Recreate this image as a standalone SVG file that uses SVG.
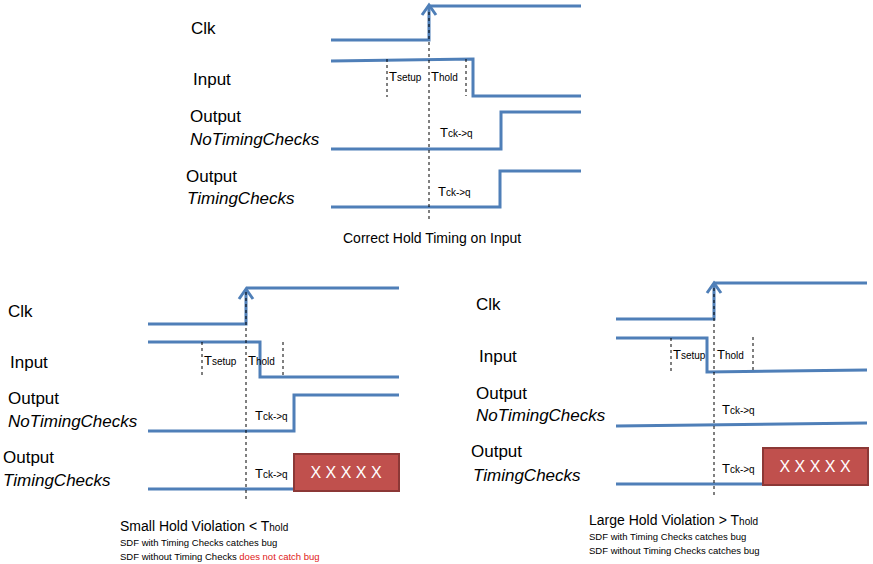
<svg xmlns="http://www.w3.org/2000/svg" width="873" height="564" viewBox="0 0 873 564">
<style>
text{font-family:"Liberation Sans","Noto Sans",sans-serif;fill:#000}
.lbl{font-size:17px}
.it{font-style:italic}
.w{fill:none;stroke:#4f7fb8;stroke-width:3;stroke-linejoin:miter}
.d{fill:none;stroke:#000;stroke-width:1;stroke-dasharray:3,3}
.t{font-size:13px}
.s{font-size:10px}
.cap{font-size:14px}
.sm{font-size:9.5px}
.box{fill:#c0504d;stroke:#8c3836;stroke-width:2}
.xx{fill:#fff;font-size:16px}
</style>
<defs>
<marker id="ar" markerWidth="6" markerHeight="6" refX="3" refY="1" orient="auto" markerUnits="userSpaceOnUse" viewBox="0 0 6 6"><path d="M0,5 L3,0 L6,5" fill="none" stroke="#4f7fb8" stroke-width="1.5"/></marker>
</defs>
<g id="connectors">
<!-- top -->
<path class="w" d="M331,40 H429 V6"/>
<path d="M422,15 L429,5 L436,15" fill="none" stroke="#4f7fb8" stroke-width="3"/>
<path class="w" d="M429,6 H581"/>
<path class="w" d="M331,61 L473,59 V96 H581"/>
<path class="w" d="M331,149 H501 V112 H581"/>
<path class="w" d="M331,207 H500 V171 H581"/>
<path class="d" d="M429,12 V220 M387,59 V97 M466,59 V96"/>
<!-- bottom left -->
<path class="w" d="M148,324 H246 V290"/>
<path d="M239,299 L246,289 L253,299" fill="none" stroke="#4f7fb8" stroke-width="3"/>
<path class="w" d="M246,288 H399"/>
<path class="w" d="M148,342 L260,342 V377 H399"/>
<path class="w" d="M148,431 H294 V395 H399"/>
<path class="w" d="M148,489 H294"/>
<path class="d" d="M246,292 V502 M202,342 V378 M283,342 V377"/>
<!-- bottom right -->
<path class="w" d="M616,319 H714 V284"/>
<path d="M707,293 L714,283 L721,293" fill="none" stroke="#4f7fb8" stroke-width="3"/>
<path class="w" d="M714,283 H867"/>
<path class="w" d="M616,338 H707 V372 L867,370"/>
<path class="w" d="M616,426 L867,423"/>
<path class="w" d="M616,484 H763"/>
<path class="d" d="M714,288 V495 M671,338 V373 M753,337 V372"/>
</g>
<g id="top">
<text class="lbl" x="191" y="34">Clk</text>
<text class="lbl" x="193" y="85">Input</text>
<text class="lbl" x="190" y="122">Output</text>
<text class="lbl it" x="190" y="145">NoTimingChecks</text>
<text class="lbl" x="186" y="182">Output</text>
<text class="lbl it" x="187" y="204">TimingChecks</text>
<text class="t" x="389" y="81">T<tspan class="s">setup</tspan></text>
<text class="t" x="431" y="81">T<tspan class="s">hold</tspan></text>
<text class="t" x="440" y="137">T<tspan class="s">ck-&gt;q</tspan></text>
<text class="t" x="438" y="196">T<tspan class="s">ck-&gt;q</tspan></text>
<text class="cap" x="343" y="243">Correct Hold Timing on Input</text>
</g>
<g id="left">
<text class="lbl" x="8" y="317">Clk</text>
<text class="lbl" x="10" y="368">Input</text>
<text class="lbl" x="8" y="404">Output</text>
<text class="lbl it" x="8" y="427">NoTimingChecks</text>
<text class="lbl" x="3" y="463">Output</text>
<text class="lbl it" x="3" y="486">TimingChecks</text>
<text class="t" x="204" y="365">T<tspan class="s">setup</tspan></text>
<text class="t" x="248" y="365">T<tspan class="s">hold</tspan></text>
<text class="t" x="255" y="420">T<tspan class="s">ck-&gt;q</tspan></text>
<text class="t" x="255" y="478">T<tspan class="s">ck-&gt;q</tspan></text>
<rect class="box" x="294" y="454" width="105" height="37"/>
<text class="xx" x="346" y="478" text-anchor="middle">X X X X X</text>
<text class="cap" x="120" y="531">Small Hold Violation &lt; T<tspan class="s">hold</tspan></text>
<text class="sm" x="120" y="546">SDF with Timing Checks catches bug</text>
<text class="sm" x="120" y="560">SDF without Timing Checks <tspan fill="#e02020">does not catch bug</tspan></text>
</g>
<g id="right">
<text class="lbl" x="476" y="310">Clk</text>
<text class="lbl" x="479" y="362">Input</text>
<text class="lbl" x="476" y="399">Output</text>
<text class="lbl it" x="476" y="421">NoTimingChecks</text>
<text class="lbl" x="471" y="457">Output</text>
<text class="lbl it" x="473" y="481">TimingChecks</text>
<text class="t" x="673" y="359">T<tspan class="s">setup</tspan></text>
<text class="t" x="717" y="359">T<tspan class="s">hold</tspan></text>
<text class="t" x="722" y="414">T<tspan class="s">ck-&gt;q</tspan></text>
<text class="t" x="722" y="473">T<tspan class="s">ck-&gt;q</tspan></text>
<rect class="box" x="763" y="448" width="105" height="37"/>
<text class="xx" x="815" y="472" text-anchor="middle">X X X X X</text>
<text class="cap" x="589" y="525">Large Hold Violation &gt; T<tspan class="s">hold</tspan></text>
<text class="sm" x="589" y="540">SDF with Timing Checks catches bug</text>
<text class="sm" x="589" y="554">SDF without Timing Checks catches bug</text>
</g>
</svg>
